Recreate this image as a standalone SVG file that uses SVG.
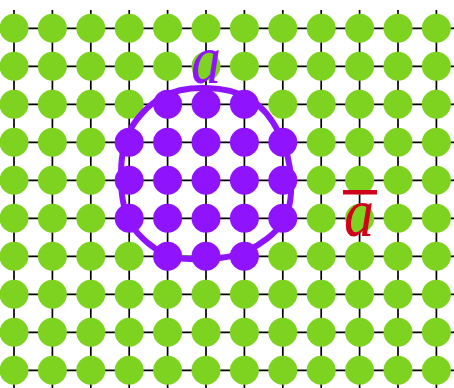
<svg xmlns="http://www.w3.org/2000/svg" width="454" height="388" viewBox="0 0 454 388">
<defs>
<style>
.grid line{stroke:#000;stroke-width:1.7}
.g circle{fill:#7ED321}
.p circle{fill:#9013FE}
.loop{fill:none;stroke:#9013FE;stroke-width:6;stroke-linejoin:round}
.lbl{font-family:"Liberation Serif","DejaVu Serif",serif;font-style:italic;font-size:60px;text-anchor:middle}
</style>
</defs>
<rect width="454" height="388" fill="#fff"/>
<g id="connectors" class="grid">
<line x1="14" y1="10" x2="14" y2="388"/><line x1="52.4" y1="10" x2="52.4" y2="388"/><line x1="90.8" y1="10" x2="90.8" y2="388"/><line x1="129.2" y1="10" x2="129.2" y2="388"/><line x1="167.6" y1="10" x2="167.6" y2="388"/><line x1="206" y1="10" x2="206" y2="388"/><line x1="244.4" y1="10" x2="244.4" y2="388"/><line x1="282.8" y1="10" x2="282.8" y2="388"/><line x1="321.2" y1="10" x2="321.2" y2="388"/><line x1="359.6" y1="10" x2="359.6" y2="388"/><line x1="398" y1="10" x2="398" y2="388"/><line x1="436.4" y1="10" x2="436.4" y2="388"/>
<line x1="0" y1="28.3" x2="454" y2="28.3"/><line x1="0" y1="66.3" x2="454" y2="66.3"/><line x1="0" y1="104.3" x2="454" y2="104.3"/><line x1="0" y1="142.3" x2="454" y2="142.3"/><line x1="0" y1="180.3" x2="454" y2="180.3"/><line x1="0" y1="218.3" x2="454" y2="218.3"/><line x1="0" y1="256.3" x2="454" y2="256.3"/><line x1="0" y1="294.3" x2="454" y2="294.3"/><line x1="0" y1="332.3" x2="454" y2="332.3"/><line x1="0" y1="370.3" x2="454" y2="370.3"/>
</g>
<g id="green-nodes" class="g">
<circle cx="14" cy="28.3" r="14.5"/><circle cx="52.4" cy="28.3" r="14.5"/><circle cx="90.8" cy="28.3" r="14.5"/><circle cx="129.2" cy="28.3" r="14.5"/><circle cx="167.6" cy="28.3" r="14.5"/><circle cx="206" cy="28.3" r="14.5"/><circle cx="244.4" cy="28.3" r="14.5"/><circle cx="282.8" cy="28.3" r="14.5"/><circle cx="321.2" cy="28.3" r="14.5"/><circle cx="359.6" cy="28.3" r="14.5"/><circle cx="398" cy="28.3" r="14.5"/><circle cx="436.4" cy="28.3" r="14.5"/>
<circle cx="14" cy="66.3" r="14.5"/><circle cx="52.4" cy="66.3" r="14.5"/><circle cx="90.8" cy="66.3" r="14.5"/><circle cx="129.2" cy="66.3" r="14.5"/><circle cx="167.6" cy="66.3" r="14.5"/><circle cx="206" cy="66.3" r="14.5"/><circle cx="244.4" cy="66.3" r="14.5"/><circle cx="282.8" cy="66.3" r="14.5"/><circle cx="321.2" cy="66.3" r="14.5"/><circle cx="359.6" cy="66.3" r="14.5"/><circle cx="398" cy="66.3" r="14.5"/><circle cx="436.4" cy="66.3" r="14.5"/>
<circle cx="14" cy="104.3" r="14.5"/><circle cx="52.4" cy="104.3" r="14.5"/><circle cx="90.8" cy="104.3" r="14.5"/><circle cx="129.2" cy="104.3" r="14.5"/><circle cx="282.8" cy="104.3" r="14.5"/><circle cx="321.2" cy="104.3" r="14.5"/><circle cx="359.6" cy="104.3" r="14.5"/><circle cx="398" cy="104.3" r="14.5"/><circle cx="436.4" cy="104.3" r="14.5"/>
<circle cx="14" cy="142.3" r="14.5"/><circle cx="52.4" cy="142.3" r="14.5"/><circle cx="90.8" cy="142.3" r="14.5"/><circle cx="321.2" cy="142.3" r="14.5"/><circle cx="359.6" cy="142.3" r="14.5"/><circle cx="398" cy="142.3" r="14.5"/><circle cx="436.4" cy="142.3" r="14.5"/>
<circle cx="14" cy="180.3" r="14.5"/><circle cx="52.4" cy="180.3" r="14.5"/><circle cx="90.8" cy="180.3" r="14.5"/><circle cx="321.2" cy="180.3" r="14.5"/><circle cx="359.6" cy="180.3" r="14.5"/><circle cx="398" cy="180.3" r="14.5"/><circle cx="436.4" cy="180.3" r="14.5"/>
<circle cx="14" cy="218.3" r="14.5"/><circle cx="52.4" cy="218.3" r="14.5"/><circle cx="90.8" cy="218.3" r="14.5"/><circle cx="321.2" cy="218.3" r="14.5"/><circle cx="359.6" cy="218.3" r="14.5"/><circle cx="398" cy="218.3" r="14.5"/><circle cx="436.4" cy="218.3" r="14.5"/>
<circle cx="14" cy="256.3" r="14.5"/><circle cx="52.4" cy="256.3" r="14.5"/><circle cx="90.8" cy="256.3" r="14.5"/><circle cx="129.2" cy="256.3" r="14.5"/><circle cx="282.8" cy="256.3" r="14.5"/><circle cx="321.2" cy="256.3" r="14.5"/><circle cx="359.6" cy="256.3" r="14.5"/><circle cx="398" cy="256.3" r="14.5"/><circle cx="436.4" cy="256.3" r="14.5"/>
<circle cx="14" cy="294.3" r="14.5"/><circle cx="52.4" cy="294.3" r="14.5"/><circle cx="90.8" cy="294.3" r="14.5"/><circle cx="129.2" cy="294.3" r="14.5"/><circle cx="167.6" cy="294.3" r="14.5"/><circle cx="206" cy="294.3" r="14.5"/><circle cx="244.4" cy="294.3" r="14.5"/><circle cx="282.8" cy="294.3" r="14.5"/><circle cx="321.2" cy="294.3" r="14.5"/><circle cx="359.6" cy="294.3" r="14.5"/><circle cx="398" cy="294.3" r="14.5"/><circle cx="436.4" cy="294.3" r="14.5"/>
<circle cx="14" cy="332.3" r="14.5"/><circle cx="52.4" cy="332.3" r="14.5"/><circle cx="90.8" cy="332.3" r="14.5"/><circle cx="129.2" cy="332.3" r="14.5"/><circle cx="167.6" cy="332.3" r="14.5"/><circle cx="206" cy="332.3" r="14.5"/><circle cx="244.4" cy="332.3" r="14.5"/><circle cx="282.8" cy="332.3" r="14.5"/><circle cx="321.2" cy="332.3" r="14.5"/><circle cx="359.6" cy="332.3" r="14.5"/><circle cx="398" cy="332.3" r="14.5"/><circle cx="436.4" cy="332.3" r="14.5"/>
<circle cx="14" cy="370.3" r="14.5"/><circle cx="52.4" cy="370.3" r="14.5"/><circle cx="90.8" cy="370.3" r="14.5"/><circle cx="129.2" cy="370.3" r="14.5"/><circle cx="167.6" cy="370.3" r="14.5"/><circle cx="206" cy="370.3" r="14.5"/><circle cx="244.4" cy="370.3" r="14.5"/><circle cx="282.8" cy="370.3" r="14.5"/><circle cx="321.2" cy="370.3" r="14.5"/><circle cx="359.6" cy="370.3" r="14.5"/><circle cx="398" cy="370.3" r="14.5"/><circle cx="436.4" cy="370.3" r="14.5"/>
</g>
<g id="region-loop">
<path class="loop" d="M206,88 C220.7,88.3 237.8,91.5 250,99 C262.2,106.5 272.2,119.5 279,133 C285.8,146.5 290.3,165.2 291,180 C291.7,194.8 290.3,210.2 283,222 C275.7,233.8 259.8,244.8 247,251 C234.2,257.2 219.7,258.5 206,259 C192.3,259.5 177.5,259.8 165,254 C152.5,248.2 138.3,236.3 131,224 C123.7,211.7 121.3,195.3 121,180 C120.7,164.7 122.2,145.8 129,132 C135.8,118.2 149.2,104.3 162,97 C174.8,89.7 191.3,87.7 206,88 Z"/>
</g>
<g id="purple-nodes" class="p">
<circle cx="167.6" cy="104.3" r="14.5"/><circle cx="206" cy="104.3" r="14.5"/><circle cx="244.4" cy="104.3" r="14.5"/>
<circle cx="129.2" cy="142.3" r="14.5"/><circle cx="167.6" cy="142.3" r="14.5"/><circle cx="206" cy="142.3" r="14.5"/><circle cx="244.4" cy="142.3" r="14.5"/><circle cx="282.8" cy="142.3" r="14.5"/>
<circle cx="129.2" cy="180.3" r="14.5"/><circle cx="167.6" cy="180.3" r="14.5"/><circle cx="206" cy="180.3" r="14.5"/><circle cx="244.4" cy="180.3" r="14.5"/><circle cx="282.8" cy="180.3" r="14.5"/>
<circle cx="129.2" cy="218.3" r="14.5"/><circle cx="167.6" cy="218.3" r="14.5"/><circle cx="206" cy="218.3" r="14.5"/><circle cx="244.4" cy="218.3" r="14.5"/><circle cx="282.8" cy="218.3" r="14.5"/>
<circle cx="167.6" cy="256.3" r="14.5"/><circle cx="206" cy="256.3" r="14.5"/><circle cx="244.4" cy="256.3" r="14.5"/>
</g>
<g id="label-a">
<text class="lbl" transform="translate(206,83) scale(1,1.15)" fill="#9013FE">a</text>
</g>
<g id="label-abar">
<rect x="343" y="190" width="34" height="4.5" fill="#D0021B"/>
<text class="lbl" transform="translate(359,236) scale(1,1.15)" fill="#D0021B">a</text>
</g>
</svg>
